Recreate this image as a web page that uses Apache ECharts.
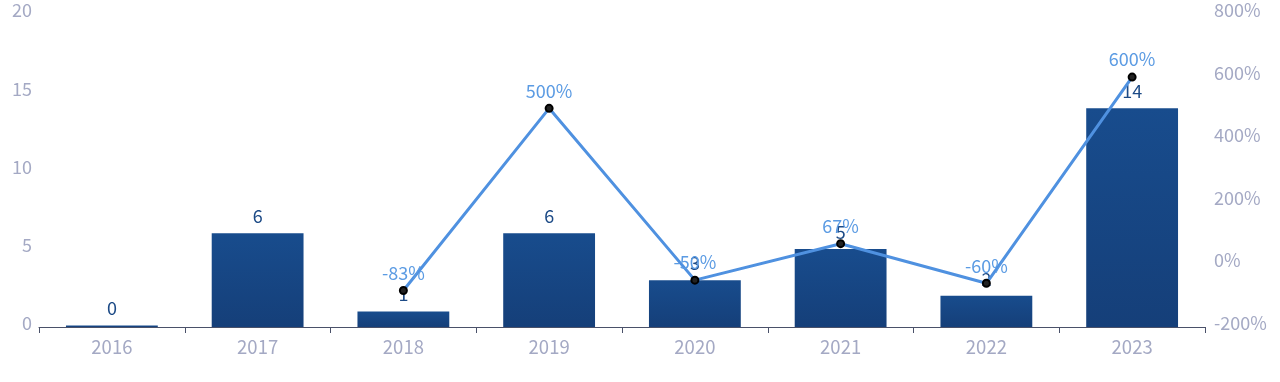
<!DOCTYPE html>
<html><head><meta charset="utf-8">
<script src="https://cdn.jsdelivr.net/npm/echarts@6/dist/echarts.min.js"></script>
<style>html,body{margin:0;padding:0;background:#fff}#c{width:1280px;height:382px}</style>
</head><body><div id="c"></div>
<script>
const categories = ['2016','2017','2018','2019','2020','2021','2022','2023'];
const counts = [0, 6, 1, 6, 3, 5, 2, 14];
const growth = [null, null, -83.33, 500, -50, 66.67, -60, 600];
const leftTicks = {min: 0, max: 20, interval: 5};
const rightTicks = {min: -200, max: 800, interval: 200};

const FONT = '"Noto Sans CJK SC", "Noto Sans", sans-serif';
const yRich = {a: {color: '#a4a9c4', fontSize: 18, fontFamily: FONT, padding: [0, 0, 8, 0]}};
const chart = echarts.init(document.getElementById('c'));
chart.setOption({
  animation: false,
  grid: {left: 39, right: 75, top: 14.6, bottom: 55, containLabel: false},
  textStyle: {fontFamily: FONT},
  xAxis: {
    type: 'category', data: categories,
    axisLine: {lineStyle: {color: '#4a5169', width: 1}},
    axisTick: {show: true, length: 6, lineStyle: {color: '#4a5169'}},
    axisLabel: {color: '#a4a9c4', fontSize: 18.5, fontFamily: FONT, margin: 11}
  },
  yAxis: [{
    type: 'value', min: leftTicks.min, max: leftTicks.max, interval: leftTicks.interval,
    splitLine: {show: false}, axisLine: {show: false}, axisTick: {show: false},
    axisLabel: {margin: 7, formatter: v => '{a|' + v + '}', rich: yRich}
  }, {
    type: 'value', min: rightTicks.min, max: rightTicks.max, interval: rightTicks.interval,
    splitLine: {show: false}, axisLine: {show: false}, axisTick: {show: false},
    axisLabel: {margin: 9, formatter: v => '{a|' + v + '%}', rich: yRich}
  }],
  series: [{
    type: 'bar', data: counts, barWidth: '63%', barMinHeight: 1.5,
    itemStyle: {color: new echarts.graphic.LinearGradient(0,0,0,1,[{offset:0,color:'#184c8d'},{offset:1,color:'#153f79'}])},
    label: {show: true, position: 'top', distance: 8, color: '#1c4a86', fontSize: 18, fontFamily: FONT}
  }, {
    type: 'line', yAxisIndex: 1, data: growth, connectNulls: false,
    lineStyle: {color: '#4f91e0', width: 3},
    symbol: 'circle', symbolSize: 7,
    itemStyle: {color: '#222', borderColor: '#000', borderWidth: 2},
    label: {show: true, position: 'top', distance: 4, color: '#5b9be3', fontSize: 18, fontFamily: FONT,
      formatter: p => Math.round(p.value) + '%'}
  }]
});
</script></body></html>
